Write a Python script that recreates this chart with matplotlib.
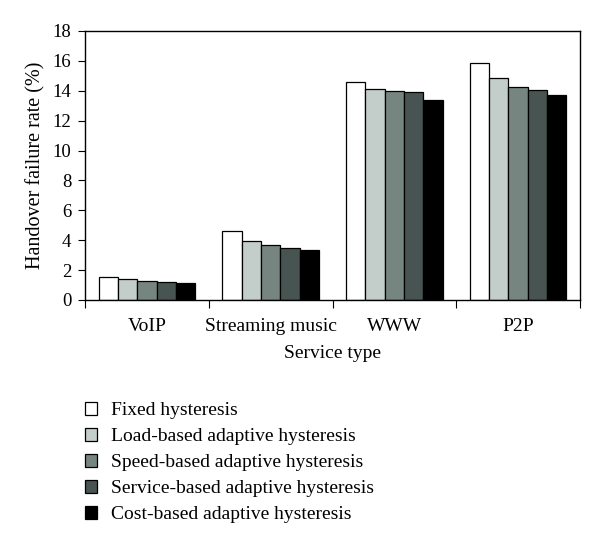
import matplotlib
matplotlib.use("Agg")
import matplotlib.pyplot as plt
import numpy as np

plt.rcParams['font.family'] = ['Liberation Serif', 'DejaVu Serif']

# 数据
services = ["VoIP", "Streaming music", "WWW", "P2P"]
schemes = ["Fixed hysteresis",
           "Load-based adaptive hysteresis",
           "Speed-based adaptive hysteresis",
           "Service-based adaptive hysteresis",
           "Cost-based adaptive hysteresis"]
fixed = [1.56, 4.60, 14.60, 15.83]
load_based = [1.40, 3.93, 14.14, 14.83]
speed_based = [1.27, 3.68, 14.00, 14.23]
service_based = [1.18, 3.46, 13.93, 14.07]
cost_based = [1.11, 3.32, 13.36, 13.71]
yticks = list(range(0, 20, 2))

series = [fixed, load_based, speed_based, service_based, cost_based]
colors = ["#ffffff", "#c3cdc9", "#76857f", "#475452", "#000000"]

fig = plt.figure(figsize=(6.0, 5.41), dpi=100)
ax = fig.add_axes([0.1417, 0.4455, 0.825, 0.4972])

x = np.arange(len(services))
n = len(series)
w = 0.78 / n
for i, vals in enumerate(series):
    ax.bar(x + (i - (n - 1) / 2) * w, vals, width=w, color=colors[i],
           edgecolor="black", linewidth=0.9, label=schemes[i])

ax.set_xlim(-0.5, len(services) - 0.5)
ax.set_ylim(0, 18)
ax.set_yticks(yticks)
ax.set_xticks(np.arange(len(services) + 1) - 0.5)
ax.set_xticklabels([])
ax.set_xticks(x, minor=True)
ax.set_xticklabels(services, minor=True)
ax.tick_params(axis="x", which="minor", length=0, pad=13, labelsize=14)
ax.tick_params(axis="x", which="major", length=6, direction="out")
ax.tick_params(axis="y", length=5, direction="out", labelsize=13.5, pad=5)
for s in ax.spines.values():
    s.set_linewidth(1.0)

ax.set_xlabel("Service type", fontsize=14, labelpad=7)
ax.set_ylabel("Handover failure rate (%)", fontsize=14.5, labelpad=5)

handles, labels = ax.get_legend_handles_labels()
fig.legend(handles, labels, loc="upper left", bbox_to_anchor=(0.126, 0.275),
           frameon=False, fontsize=14, handlelength=0.62, handleheight=0.62,
           handletextpad=0.72, labelspacing=0.46, borderpad=0)

fig.savefig("out.png", dpi=100)
